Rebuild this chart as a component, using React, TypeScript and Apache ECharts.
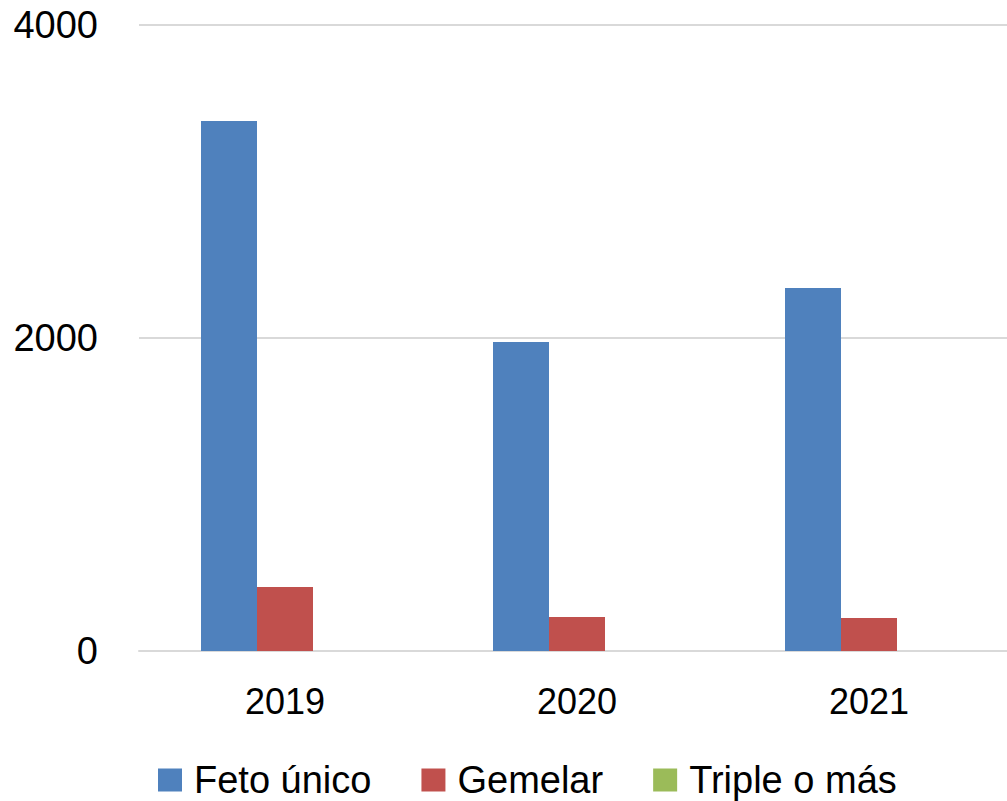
import React, { useEffect, useRef } from "react";
import * as echarts from "echarts";

const categories = ["2019", "2020", "2021"];
const fetoUnico = [3387, 1974, 2319];
const gemelar = [409, 217, 211];
const tripleOMas = [0, 0, 0];
const seriesNames = ["Feto único", "Gemelar", "Triple o más"];
const yTicks = [0, 2000, 4000];
const colors = ["#4f81bd", "#c0504d", "#9bbb59"];

export default function App() {
  const ref = useRef<HTMLDivElement>(null);
  useEffect(() => {
    document.body.style.margin = "0";
    const chart = echarts.init(ref.current!, null, { renderer: "svg" });
    const font = "'Liberation Sans', Arial, sans-serif";
    const data = [fetoUnico, gemelar, tripleOMas];
    chart.setOption({
      animation: false,
      backgroundColor: "#ffffff",
      grid: {
        left: 139,
        width: 876,
        top: 25,
        bottom: 150,
        outerBoundsMode: "none",
        containLabel: false,
      },
      xAxis: {
        type: "category",
        data: categories,
        axisLine: { lineStyle: { color: "#d9d9d9", width: 2 } },
        axisTick: { show: false },
        axisLabel: { color: "#000", fontSize: 36, fontFamily: font, margin: 32 },
      },
      yAxis: {
        type: "value",
        min: yTicks[0],
        max: yTicks[yTicks.length - 1],
        interval: yTicks[1] - yTicks[0],
        axisLine: { show: false },
        axisTick: { show: false },
        splitLine: { lineStyle: { color: "#d9d9d9", width: 2 } },
        axisLabel: {
          color: "#000",
          fontSize: 38,
          fontFamily: font,
          margin: 41,
          formatter: (v: number) => String(v),
        },
      },
      legend: {
        top: 761,
        left: 158,
        padding: 0,
        itemWidth: 24,
        itemHeight: 23,
        itemGap: 50,
        icon: "rect",
        textStyle: {
          color: "#000",
          fontSize: 38,
          lineHeight: 38,
          fontFamily: font,
          padding: [0, 0, 0, 7],
        },
        data: seriesNames,
      },
      series: seriesNames.map((name, i) => ({
        name,
        type: "bar",
        data: data[i],
        barWidth: 56,
        barGap: "0%",
        itemStyle: { color: colors[i] },
      })),
    });
    return () => chart.dispose();
  }, []);
  return <div ref={ref} style={{ width: 1007, height: 801 }} />;
}
